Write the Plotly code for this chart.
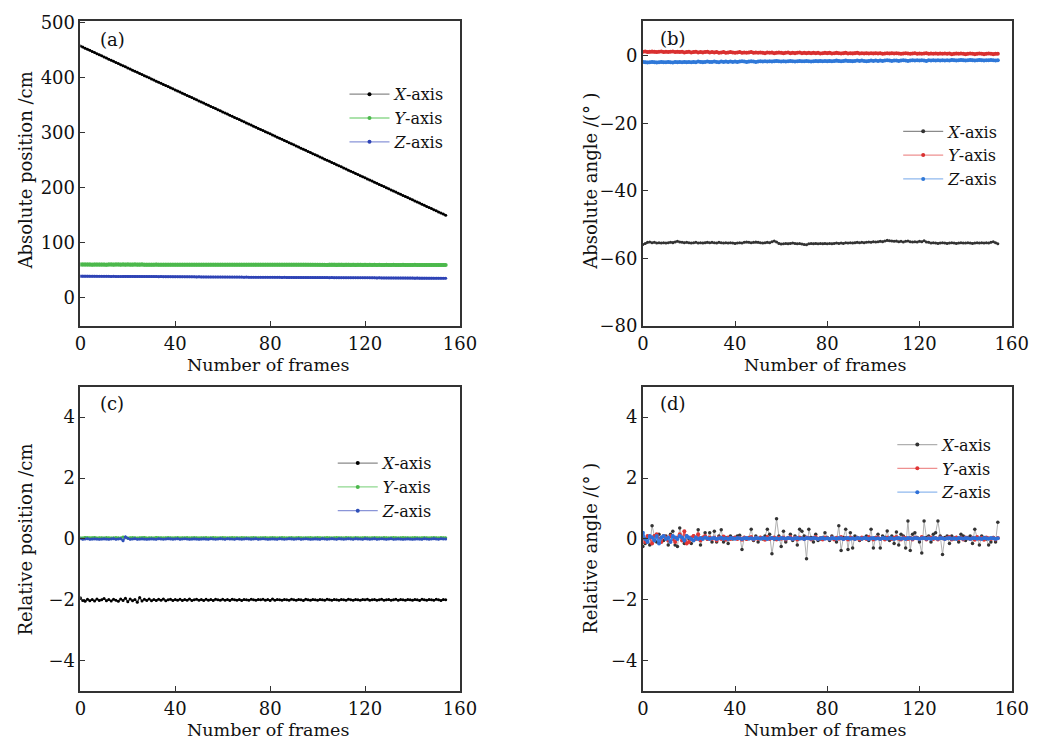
import plotly.graph_objects as go

frames = list(range(155))

# ---------- (a) absolute position / cm ----------
a_X = [458,456,454,452,450,448,446,444,442,440,
       438,436,434,432,430,428,426,424,422,420,
       418,416,414,412,410,408,406,404,402,400,
       398,396,394,392,390,388,386,384,382,380,
       378,376,374,372,370,368,366,364,362,360,
       358,356,354,352,350,348,346,344,342,340,
       338,336,334,332,330,328,326,324,322,320,
       318,316,314,312,310,308,306,304,302,300,
       298,296,294,292,290,288,286,284,282,280,
       278,276,274,272,270,268,266,264,262,260,
       258,256,254,252,250,248,246,244,242,240,
       238,236,234,232,230,228,226,224,222,220,
       218,216,214,212,210,208,206,204,202,200,
       198,196,194,192,190,188,186,184,182,180,
       178,176,174,172,170,168,166,164,162,160,
       158,156,154,152,150]
a_Y = [60.4,60.2,60.3,60.1,60.2,60.0,60.2,60.1,60.3,60.1,
       60.2,60.0,60.1,60.2,60.0,60.1,60.2,60.0,60.1,60.0,
       60.1,59.9,60.0,60.1,59.9,60.0,60.1,59.9,60.0,59.9,
       60.0,59.9,60.1,59.9,60.0,59.8,60.0,59.9,60.0,59.8,
       59.9,60.0,59.8,59.9,60.0,59.8,59.9,59.8,60.0,59.8,
       59.9,59.8,59.9,59.7,59.9,59.8,59.9,59.7,59.8,59.9,
       59.7,59.8,59.9,59.7,59.8,59.7,59.9,59.8,59.7,59.8,
       59.7,59.8,59.7,59.9,59.7,59.8,59.7,59.8,59.6,59.8,
       59.7,59.8,59.6,59.7,59.8,59.6,59.7,59.8,59.6,59.7,
       59.8,59.6,59.7,59.6,59.8,59.6,59.7,59.6,59.7,59.8,
       59.6,59.7,59.6,59.7,59.5,59.7,59.6,59.7,59.5,59.6,
       59.7,59.5,59.6,59.7,59.5,59.6,59.5,59.7,59.6,59.5,
       59.6,59.5,59.6,59.4,59.6,59.5,59.6,59.4,59.5,59.6,
       59.5,59.4,59.6,59.5,59.4,59.5,59.6,59.4,59.5,59.4,
       59.5,59.6,59.4,59.5,59.4,59.5,59.3,59.5,59.4,59.5,
       59.4,59.5,59.3,59.4,59.5]
a_Z = [39.0,38.9,39.0,38.9,38.9,38.8,38.9,38.8,38.8,38.7,
       38.8,38.7,38.7,38.6,38.7,38.6,38.6,38.5,38.6,38.5,
       38.5,38.4,38.5,38.4,38.4,38.3,38.4,38.3,38.3,38.2,
       38.3,38.2,38.2,38.1,38.2,38.1,38.1,38.0,38.1,38.0,
       38.0,37.9,38.0,37.9,37.9,37.8,37.9,37.8,37.8,37.7,
       37.8,37.7,37.7,37.6,37.7,37.6,37.6,37.5,37.6,37.5,
       37.5,37.4,37.5,37.4,37.4,37.3,37.4,37.3,37.3,37.2,
       37.3,37.2,37.2,37.1,37.2,37.1,37.1,37.0,37.1,37.0,
       37.0,36.9,37.0,36.9,36.9,36.8,36.9,36.8,36.8,36.7,
       36.8,36.7,36.7,36.6,36.7,36.6,36.6,36.5,36.6,36.5,
       36.5,36.4,36.5,36.4,36.4,36.3,36.4,36.3,36.3,36.2,
       36.3,36.2,36.2,36.1,36.2,36.1,36.1,36.0,36.1,36.0,
       36.0,35.9,36.0,35.9,35.9,35.8,35.9,35.8,35.8,35.7,
       35.8,35.7,35.7,35.6,35.7,35.6,35.6,35.5,35.6,35.5,
       35.5,35.4,35.5,35.4,35.4,35.3,35.4,35.3,35.3,35.2,
       35.3,35.2,35.2,35.1,35.2]

# ---------- (b) absolute angle / deg ----------
b_X = [-55.8,-55.5,-55.2,-55.1,-55.3,-55.2,-55.4,-55.3,-55.4,-55.3,
       -55.4,-55.3,-55.2,-55.3,-55.1,-54.9,-55.1,-55.2,-55.3,-55.2,
       -55.3,-55.4,-55.3,-55.2,-55.4,-55.3,-55.4,-55.3,-55.2,-55.3,
       -55.2,-55.3,-55.4,-55.2,-55.3,-55.4,-55.3,-55.4,-55.3,-55.4,
       -55.5,-55.4,-55.3,-55.4,-55.2,-55.1,-55.2,-55.3,-55.2,-55.1,
       -55.2,-55.3,-55.4,-55.3,-55.2,-55.3,-55.0,-54.8,-55.1,-55.5,
       -55.7,-55.6,-55.5,-55.6,-55.5,-55.4,-55.5,-55.6,-55.5,-55.7,
       -55.8,-55.9,-55.6,-55.5,-55.6,-55.5,-55.6,-55.5,-55.6,-55.5,
       -55.6,-55.5,-55.6,-55.5,-55.4,-55.5,-55.4,-55.5,-55.3,-55.4,
       -55.3,-55.4,-55.3,-55.2,-55.3,-55.2,-55.3,-55.2,-55.1,-55.2,
       -55.0,-55.1,-55.0,-54.9,-55.0,-54.8,-54.6,-54.7,-54.8,-54.9,
       -54.8,-55.0,-54.9,-55.1,-54.9,-54.8,-55.0,-55.1,-55.0,-55.1,
       -54.9,-55.0,-54.7,-55.1,-55.2,-55.4,-55.3,-55.4,-55.5,-55.4,
       -55.3,-55.4,-55.5,-55.4,-55.3,-55.4,-55.5,-55.4,-55.3,-55.4,
       -55.4,-55.3,-55.4,-55.5,-55.4,-55.3,-55.4,-55.3,-55.4,-55.3,
       -55.4,-55.2,-55.0,-55.3,-55.6]
b_Y = [1.2,1.3,1.1,1.2,1.3,1.2,1.1,1.2,1.3,1.1,
       1.2,1.1,1.2,1.3,1.1,1.2,1.1,1.2,1.0,1.1,
       1.2,1.0,1.1,1.2,1.0,1.1,1.0,1.1,1.2,1.0,
       1.1,1.0,1.1,0.9,1.0,1.1,0.9,1.0,1.1,1.0,
       0.9,1.0,1.1,0.9,1.0,0.9,1.0,1.1,0.9,1.0,
       0.9,1.0,0.9,0.8,1.0,0.9,1.0,0.8,0.9,1.0,
       0.9,0.8,0.9,1.0,0.8,0.9,0.8,0.9,1.0,0.8,
       0.9,0.8,0.9,0.8,0.9,0.8,0.9,0.7,0.8,0.9,
       0.8,0.9,0.7,0.8,0.9,0.8,0.7,0.8,0.9,0.7,
       0.8,0.7,0.8,0.9,0.7,0.8,0.7,0.8,0.7,0.8,
       0.7,0.8,0.7,0.8,0.6,0.7,0.8,0.7,0.8,0.7,
       0.8,0.7,0.6,0.7,0.8,0.7,0.6,0.7,0.8,0.6,
       0.7,0.6,0.7,0.8,0.6,0.7,0.6,0.7,0.6,0.7,
       0.6,0.7,0.6,0.7,0.5,0.6,0.7,0.6,0.7,0.6,
       0.5,0.6,0.7,0.6,0.5,0.6,0.7,0.6,0.5,0.6,
       0.7,0.6,0.5,0.6,0.6]
b_Z = [-1.8,-1.9,-2.0,-1.9,-1.8,-1.9,-2.0,-1.9,-1.8,-1.9,
       -1.9,-1.8,-1.9,-2.0,-1.8,-1.9,-1.8,-1.9,-1.8,-1.9,
       -1.8,-1.9,-1.8,-1.9,-1.7,-1.8,-1.9,-1.8,-1.7,-1.8,
       -1.8,-1.7,-1.8,-1.9,-1.7,-1.8,-1.7,-1.8,-1.7,-1.8,
       -1.7,-1.8,-1.7,-1.6,-1.7,-1.8,-1.7,-1.6,-1.7,-1.8,
       -1.7,-1.6,-1.7,-1.6,-1.7,-1.6,-1.7,-1.6,-1.5,-1.6,
       -1.7,-1.6,-1.7,-1.6,-1.5,-1.6,-1.7,-1.6,-1.5,-1.6,
       -1.6,-1.5,-1.6,-1.7,-1.6,-1.5,-1.6,-1.5,-1.6,-1.5,
       -1.6,-1.5,-1.6,-1.5,-1.4,-1.5,-1.6,-1.5,-1.4,-1.5,
       -1.5,-1.6,-1.5,-1.4,-1.5,-1.4,-1.5,-1.6,-1.5,-1.4,
       -1.5,-1.4,-1.5,-1.4,-1.5,-1.4,-1.3,-1.4,-1.5,-1.4,
       -1.4,-1.5,-1.4,-1.3,-1.4,-1.5,-1.4,-1.3,-1.4,-1.3,
       -1.4,-1.3,-1.4,-1.5,-1.3,-1.4,-1.3,-1.4,-1.3,-1.4,
       -1.3,-1.4,-1.3,-1.4,-1.2,-1.3,-1.4,-1.3,-1.2,-1.3,
       -1.4,-1.3,-1.2,-1.3,-1.4,-1.3,-1.2,-1.3,-1.4,-1.3,
       -1.3,-1.2,-1.3,-1.4,-1.3]

# ---------- (c) relative position / cm ----------
c_X = [-1.93,-2.02,-2.05,-1.98,-2.03,-1.99,-2.04,-1.97,-2.02,-2.00,
       -1.96,-2.03,-1.99,-2.04,-1.98,-2.01,-2.05,-1.97,-2.02,-1.95,
       -2.06,-1.97,-2.03,-1.99,-2.08,-1.92,-2.04,-1.98,-2.02,-1.97,
       -2.03,-1.99,-2.02,-1.98,-2.01,-1.97,-2.03,-2.00,-1.98,-2.02,
       -1.99,-2.01,-1.98,-2.02,-1.99,-2.01,-1.97,-2.02,-2.00,-1.98,
       -2.01,-1.99,-2.02,-1.98,-2.01,-1.99,-2.02,-1.98,-2.00,-2.01,
       -1.98,-2.01,-1.99,-2.02,-1.98,-2.00,-2.01,-1.99,-2.02,-1.99,
       -2.00,-2.01,-1.98,-2.00,-2.01,-1.99,-2.00,-1.98,-2.01,-1.99,
       -2.02,-1.97,-2.01,-1.99,-2.00,-2.01,-1.99,-2.00,-2.01,-1.98,
       -2.00,-2.01,-1.99,-2.00,-2.02,-1.98,-2.00,-2.01,-1.99,-2.00,
       -2.01,-1.99,-2.00,-2.01,-1.98,-2.00,-2.01,-1.99,-2.00,-2.01,
       -1.99,-2.00,-2.01,-1.98,-2.00,-2.01,-1.99,-2.00,-2.01,-1.99,
       -2.00,-1.98,-2.01,-2.00,-1.99,-2.01,-2.00,-1.98,-2.01,-2.00,
       -1.99,-2.01,-2.00,-1.98,-2.01,-1.99,-2.00,-2.01,-1.99,-2.00,
       -2.01,-1.99,-2.00,-2.02,-1.98,-2.00,-2.01,-1.99,-2.00,-2.01,
       -1.98,-2.00,-2.02,-1.99,-2.00]
c_Y = [0.04,0.03,0.05,0.04,0.03,0.04,0.05,0.03,0.04,0.04,
       0.03,0.05,0.04,0.03,0.04,0.05,0.04,0.03,0.06,0.04,
       0.03,0.04,0.05,0.04,0.03,0.04,0.04,0.05,0.03,0.04,
       0.04,0.03,0.05,0.04,0.04,0.03,0.04,0.05,0.04,0.03,
       0.04,0.05,0.03,0.04,0.04,0.05,0.03,0.04,0.05,0.04,
       0.03,0.04,0.04,0.05,0.03,0.04,0.05,0.04,0.03,0.04,
       0.05,0.04,0.03,0.04,0.05,0.04,0.04,0.03,0.05,0.04,
       0.04,0.03,0.04,0.05,0.04,0.03,0.04,0.04,0.05,0.03,
       0.04,0.05,0.04,0.03,0.04,0.05,0.04,0.03,0.04,0.05,
       0.03,0.04,0.05,0.04,0.03,0.04,0.04,0.05,0.03,0.04,
       0.05,0.04,0.03,0.04,0.05,0.04,0.03,0.04,0.05,0.04,
       0.04,0.03,0.05,0.04,0.04,0.03,0.05,0.04,0.03,0.04,
       0.05,0.04,0.03,0.04,0.05,0.04,0.04,0.03,0.05,0.04,
       0.03,0.04,0.05,0.04,0.03,0.04,0.05,0.04,0.04,0.03,
       0.04,0.05,0.04,0.03,0.04,0.05,0.04,0.03,0.04,0.05,
       0.04,0.03,0.05,0.04,0.04]
c_Z = [0.01,-0.01,0.00,0.01,-0.01,0.00,0.01,0.00,-0.01,0.00,
       0.01,0.00,-0.01,0.00,0.01,-0.01,0.00,0.01,-0.06,0.07,
       0.02,-0.01,0.00,0.01,-0.01,0.00,0.01,0.00,-0.01,0.00,
       0.01,0.00,-0.01,0.01,0.00,-0.01,0.00,0.01,0.00,-0.01,
       0.00,0.01,-0.01,0.00,0.01,0.00,-0.01,0.00,0.01,0.00,
       -0.01,0.00,0.01,0.00,-0.01,0.01,0.00,-0.01,0.00,0.01,
       0.00,-0.01,0.01,0.00,0.00,-0.01,0.01,0.00,-0.01,0.00,
       0.01,0.00,-0.01,0.00,0.01,-0.01,0.00,0.01,0.00,-0.01,
       0.00,0.01,0.00,-0.01,0.01,0.00,-0.01,0.00,0.01,0.00,
       -0.01,0.00,0.01,-0.01,0.00,0.01,0.00,-0.01,0.00,0.01,
       0.00,-0.01,0.01,0.00,-0.01,0.00,0.01,0.00,-0.01,0.01,
       0.00,-0.01,0.00,0.01,0.00,-0.01,0.01,0.00,0.00,-0.01,
       0.01,0.00,-0.01,0.00,0.01,-0.01,0.00,0.01,0.00,-0.01,
       0.00,0.01,-0.01,0.00,0.01,0.00,-0.01,0.00,0.01,0.00,
       -0.01,0.00,0.01,0.00,-0.01,0.01,0.00,-0.01,0.00,0.01,
       0.00,-0.01,0.01,0.00,0.00]

# ---------- (d) relative angle / deg ----------
d_X = [-0.25,-0.15,0.05,-0.20,0.43,0.10,-0.10,0.15,0.05,-0.05,
       0.10,-0.20,0.15,0.25,-0.20,-0.25,0.36,0.05,-0.15,0.10,
       0.00,-0.15,0.10,0.05,0.30,-0.20,0.05,0.20,0.00,0.20,
       -0.10,0.25,-0.10,0.10,0.30,-0.10,0.05,-0.15,0.10,0.00,
       0.05,0.10,0.12,-0.35,0.05,0.00,0.05,0.32,-0.05,0.10,
       -0.10,0.05,0.00,0.10,0.32,0.15,-0.49,0.00,0.66,0.10,
       -0.25,0.25,-0.10,0.05,0.15,-0.05,0.10,-0.20,0.32,0.25,
       0.10,-0.65,0.32,0.05,-0.10,0.15,-0.05,0.00,0.05,0.20,
       0.05,-0.05,0.10,0.00,-0.10,0.43,-0.38,0.05,0.32,-0.35,
       0.20,-0.30,0.10,0.05,-0.05,0.00,0.05,0.10,-0.05,0.32,
       -0.30,0.05,0.15,-0.30,0.10,0.05,0.26,-0.05,0.10,-0.15,
       0.23,-0.20,0.15,0.10,-0.30,0.59,-0.38,0.15,0.20,0.05,
       -0.10,-0.46,0.59,0.05,0.10,-0.10,0.15,0.20,0.59,0.10,
       -0.51,0.05,0.10,-0.15,0.10,0.00,0.05,-0.10,0.15,0.10,
       -0.05,0.05,0.10,-0.15,0.32,0.05,-0.20,0.10,0.05,0.00,
       -0.20,-0.10,0.05,-0.10,0.55]
d_Y = [0.05,-0.10,0.10,0.05,-0.15,0.10,0.15,0.00,-0.10,0.10,
       0.05,-0.05,0.10,0.00,-0.10,0.05,0.15,-0.05,0.25,-0.15,
       -0.10,0.05,0.10,0.00,0.15,-0.05,0.05,0.10,0.00,0.05,
       0.00,0.05,-0.05,0.05,0.00,0.08,-0.03,0.05,0.00,0.03,
       0.05,0.00,0.04,-0.03,0.05,0.00,0.03,0.06,-0.02,0.04,
       0.00,0.05,0.02,-0.03,0.06,0.00,0.03,0.05,-0.02,0.04,
       0.01,0.05,-0.02,0.03,0.06,0.00,0.04,-0.02,0.05,0.02,
       0.00,0.05,0.03,-0.02,0.04,0.06,0.00,0.03,-0.02,0.05,
       0.02,0.00,0.05,-0.02,0.04,0.01,0.06,0.00,0.03,-0.02,
       0.05,0.02,0.00,0.04,-0.02,0.05,0.03,0.00,0.06,0.02,
       -0.02,0.04,0.05,0.00,0.03,-0.02,0.05,0.02,0.00,0.04,
       0.06,0.01,-0.02,0.05,0.03,0.00,0.04,-0.02,0.05,0.02,
       0.00,0.06,0.03,-0.02,0.04,0.05,0.00,0.03,-0.02,0.05,
       0.02,0.00,0.04,0.06,-0.02,0.03,0.05,0.00,0.04,-0.02,
       0.05,0.02,0.00,0.04,-0.03,0.06,0.01,0.04,-0.03,0.05,
       0.02,0.00,0.04,-0.02,0.03]
d_Z = [0.20,0.00,-0.10,0.10,0.05,-0.05,0.10,-0.15,0.05,0.10,
       0.00,0.05,-0.10,0.10,0.05,0.00,0.10,0.05,-0.05,0.10,
       0.05,0.00,-0.05,0.05,0.00,0.03,0.00,0.05,0.02,0.00,
       0.02,0.03,0.00,0.02,0.04,0.01,0.02,0.00,0.03,0.02,
       0.01,0.03,0.02,0.00,0.02,0.03,0.01,0.02,0.00,0.03,
       0.02,0.01,0.03,0.02,0.00,0.02,0.03,0.01,0.02,0.00,
       0.03,0.02,0.01,0.03,0.02,0.00,0.02,0.03,0.01,0.02,
       0.00,0.03,0.02,0.01,0.03,0.02,0.00,0.02,0.03,0.01,
       0.02,0.00,0.03,0.02,0.01,0.03,0.02,0.00,0.02,0.03,
       0.01,0.02,0.00,0.03,0.02,0.01,0.03,0.02,0.00,0.02,
       0.03,0.01,0.02,0.00,0.03,0.02,0.01,0.03,0.02,0.00,
       0.02,0.03,0.01,0.02,0.00,0.03,0.02,0.01,0.03,0.02,
       0.00,0.02,0.03,0.01,0.02,0.00,0.03,0.02,0.01,0.03,
       0.02,0.00,0.02,0.03,0.01,0.02,0.00,0.03,0.02,0.01,
       0.03,0.02,0.00,0.02,0.03,0.01,0.02,0.00,0.03,0.02,
       0.01,0.03,0.02,0.00,0.02]

series_names = ["<i>X</i>-axis", "<i>Y</i>-axis", "<i>Z</i>-axis"]
panel_labels = ["(a)", "(b)", "(c)", "(d)"]
y_titles = ["Absolute position /cm", "Absolute angle /(° )",
            "Relative position /cm", "Relative angle /(° )"]
x_title = "Number of frames"

FONT = "DejaVu Serif"
W, H = 1059, 749

def px(x):
    return x / W

def py(y):
    return 1 - y / H

fig = go.Figure()

panels = [
    dict(ax="", data=[a_X, a_Y, a_Z],
         lines=["#1a1a1a", "#66c966", "#3b4fbf"],
         marks=["#000000", "#4cb84c", "#2e43b5"],
         widths=[1.6, 4.0, 2.6], msize=[3, 4, 3],
         leg_lines=["#8a8a8a", "#8fd88f", "#8a95d8"]),
    dict(ax="2", data=[b_X, b_Y, b_Z],
         lines=["#5a5a5a", "#e24a4a", "#3d86e2"],
         marks=["#333333", "#d93030", "#2f78d8"],
         widths=[1.6, 2.8, 2.6], msize=[3, 4, 4],
         leg_lines=["#8a8a8a", "#ee9090", "#8fb8ee"]),
    dict(ax="3", data=[c_X, c_Y, c_Z],
         lines=["#333333", "#66c966", "#3f5fc8"],
         marks=["#000000", "#4cb84c", "#2e4fb8"],
         widths=[1.4, 2.6, 2.0], msize=[3, 3, 3],
         leg_lines=["#8a8a8a", "#8fd88f", "#8a95d8"]),
    dict(ax="4", data=[d_X, d_Y, d_Z],
         lines=["#b0b0b0", "#e85050", "#3f80e2"],
         marks=["#333333", "#e03535", "#2f70d8"],
         widths=[1.0, 1.8, 2.4], msize=[3.5, 4, 4],
         leg_lines=["#b0b0b0", "#ee9090", "#8fb8ee"]),
]

for i, p in enumerate(panels):
    xa, ya, lg = "x" + p["ax"], "y" + p["ax"], "legend" + p["ax"]
    for j in range(3):
        fig.add_trace(go.Scatter(
            x=frames, y=p["data"][j], mode="lines+markers",
            name=series_names[j], showlegend=False,
            line=dict(color=p["lines"][j], width=p["widths"][j]),
            marker=dict(color=p["marks"][j], size=p["msize"][j]),
            xaxis=xa, yaxis=ya,
        ))
    # legend entries drawn with the thin key style of the original figure
    for j in range(3):
        fig.add_trace(go.Scatter(
            x=[None], y=[None], mode="lines+markers", name=series_names[j],
            line=dict(color=p["leg_lines"][j], width=1.3),
            marker=dict(color=p["marks"][j], size=4),
            xaxis=xa, yaxis=ya, legend=lg, showlegend=True,
        ))

axis_common = dict(showline=True, mirror=True, linecolor="#333333", linewidth=1.5,
                   ticks="inside", ticklen=5, tickwidth=1.2, tickcolor="#333333",
                   showgrid=False, zeroline=False,
                   tickfont=dict(family=FONT, size=18, color="#111111"))

xdom_left = [px(76), px(464)]
xdom_right = [px(651), px(1028)]
ydom_top = [py(326), py(13)]
ydom_bot = [py(700), py(388)]

xt = [0, 40, 80, 120, 160]
layout = dict(
    width=W, height=H, margin=dict(l=0, r=0, t=0, b=0),
    paper_bgcolor="white", plot_bgcolor="white", showlegend=True,
    xaxis=dict(domain=xdom_left, range=[0, 160], tickvals=xt, anchor="y", **axis_common),
    yaxis=dict(domain=ydom_top, range=[-52, 504], tickvals=[0, 100, 200, 300, 400, 500], anchor="x", **axis_common),
    xaxis2=dict(domain=xdom_right, range=[0, 160], tickvals=xt, anchor="y2", **axis_common),
    yaxis2=dict(domain=ydom_top, range=[-80, 10.4], tickvals=[-80, -60, -40, -20, 0], anchor="x2", **axis_common),
    xaxis3=dict(domain=xdom_left, range=[0, 160], tickvals=xt, anchor="y3", **axis_common),
    yaxis3=dict(domain=ydom_bot, range=[-5, 5], tickvals=[-4, -2, 0, 2, 4], anchor="x3", **axis_common),
    xaxis4=dict(domain=xdom_right, range=[0, 160], tickvals=xt, anchor="y4", **axis_common),
    yaxis4=dict(domain=ydom_bot, range=[-5, 5], tickvals=[-4, -2, 0, 2, 4], anchor="x4", **axis_common),
)

legend_pos = {"": (346, 71), "2": (912, 109), "3": (334, 449), "4": (906, 430)}
for k, (lx, ly) in legend_pos.items():
    layout["legend" + k] = dict(x=px(lx), y=py(ly), xanchor="left", yanchor="top",
                                bgcolor="rgba(0,0,0,0)", borderwidth=0,
                                font=dict(family=FONT, size=16, color="#111111"),
                                itemwidth=40, tracegroupgap=0)

annotations = []
label_pos = [(109, 32), (682, 31), (108, 405), (682, 405)]
for t, (x, y) in zip(panel_labels, label_pos):
    annotations.append(dict(text=t, x=px(x), y=py(y), xref="paper", yref="paper",
                            showarrow=False, xanchor="center", yanchor="middle",
                            font=dict(family=FONT, size=18, color="#111111")))
ytitle_pos = [(20, 167), (598, 178), (20, 545), (598, 554)]
for t, (x, y) in zip(y_titles, ytitle_pos):
    annotations.append(dict(text=t, x=px(x), y=py(y), xref="paper", yref="paper",
                            showarrow=False, xanchor="center", yanchor="middle", textangle=-90,
                            font=dict(family=FONT, size=18, color="#111111")))
xtitle_pos = [(268, 366), (837, 366), (268, 740), (837, 740)]
for x, y in xtitle_pos:
    annotations.append(dict(text=x_title, x=px(x), y=py(y), xref="paper", yref="paper",
                            showarrow=False, xanchor="center", yanchor="middle",
                            font=dict(family=FONT, size=17.5, color="#111111")))
layout["annotations"] = annotations

fig.update_layout(**layout)
fig.write_html("out.html", config={"displayModeBar": False},
               post_script="document.body.style.margin='0';")
